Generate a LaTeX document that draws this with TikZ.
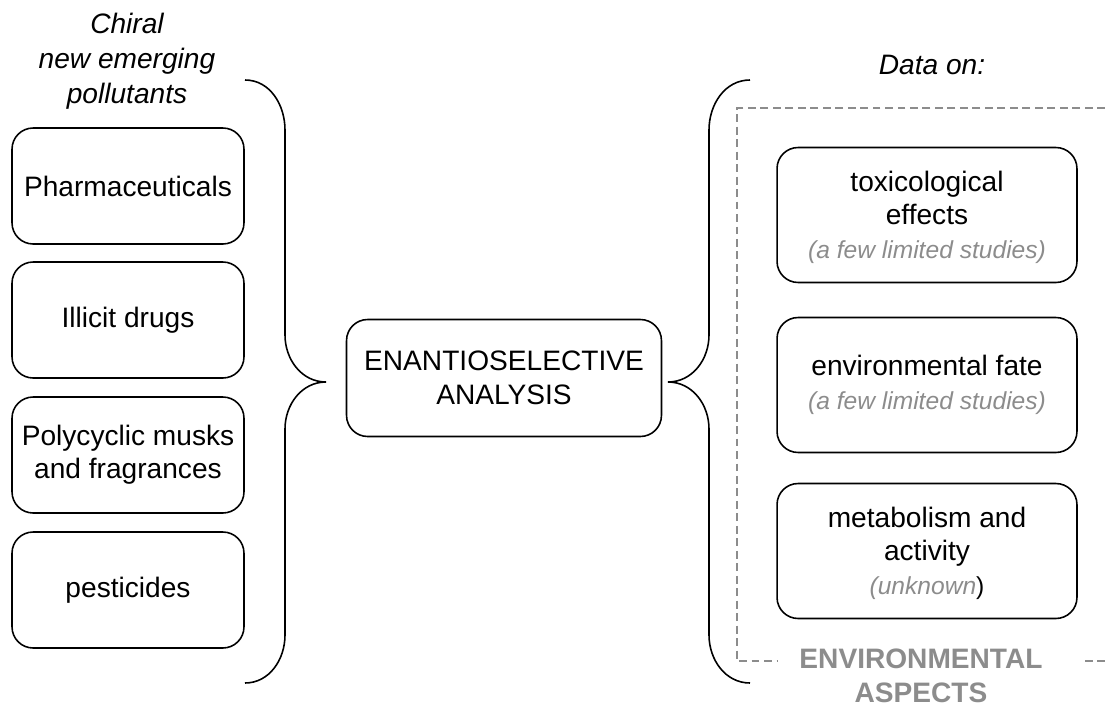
\documentclass[tikz,border=0pt]{standalone}
\usepackage{fontspec}
\setmainfont{Liberation Sans}
\definecolor{harmaa}{HTML}{8C8C8C}
\newcommand\huomteksti{\fontsize{14}{19}\selectfont\itshape\color{harmaa}}
\begin{document}
\begin{tikzpicture}[x=0.02cm,y=-0.02cm,
  laatikko/.style={draw, rounded corners=12pt, line width=0.9pt, align=center,
    minimum width=4.64cm, minimum height=2.32cm},
  iso/.style={laatikko, minimum width=6.3cm, minimum height=2.34cm},
  tieto/.style={laatikko, minimum width=6cm, minimum height=2.7cm},
  sulku/.style={draw, line width=0.9pt},
  kehys/.style={draw=harmaa, line width=1.2pt, dash pattern=on 4.5pt off 2.6pt}]
\fontsize{16}{19}\selectfont
\useasboundingbox (0,0) rectangle (1105,710);
% vasen puoli
\node[align=center, font=\fontsize{16}{19.8}\selectfont\itshape] (otsV) at (127,61) {Chiral\\new emerging\\pollutants};
\node[laatikko] (farm) at (128,186) {Pharmaceuticals};
\node[laatikko] (huum) at (128,320) {Illicit drugs};
\node[laatikko] (musk) at (128,455) {Polycyclic musks\\and fragrances};
\node[laatikko] (pest) at (128,590) {pesticides};
\path[sulku] (245,80) to[out=0,in=90] (285,130) -- (285,335) to[out=-90,in=180] (326,382)
  to[out=180,in=90] (285,429) -- (285,635) to[out=-90,in=0] (245,683);
% keskella
\node[iso] (anal) at (504,378) {ENANTIOSELECTIVE\\ANALYSIS};
% oikea puoli
\path[sulku] (750,80) to[out=180,in=90] (709,130) -- (709,335) to[out=-90,in=0] (668,382)
  to[out=0,in=90] (709,429) -- (709,635) to[out=-90,in=180] (750,683);
\node[font=\fontsize{16}{19}\selectfont\itshape] (otsO) at (932,65) {Data on:};
\path[kehys] (1105,108) -- (737,108) -- (737,661) -- (778,661);
\path[kehys] (1085,661) -- (1105,661);
\node[tieto] (toks) at (927,215) {\rule{0pt}{14pt}toxicological\\effects\\{\huomteksti(a few limited studies)}};
\node[tieto] (ymp) at (927,385) {environmental fate\\{\huomteksti(a few limited studies)}};
\node[tieto] (meta) at (927,551) {\rule{0pt}{14pt}metabolism and\\activity\\{\huomteksti(unknown}{\fontsize{14}{19}\selectfont)}};
\node[align=center, inner sep=1pt, text=harmaa, font=\fontsize{16}{19}\selectfont\bfseries] (ymprAsp) at (921,676) {ENVIRONMENTAL\\ASPECTS};
\end{tikzpicture}
\end{document}
